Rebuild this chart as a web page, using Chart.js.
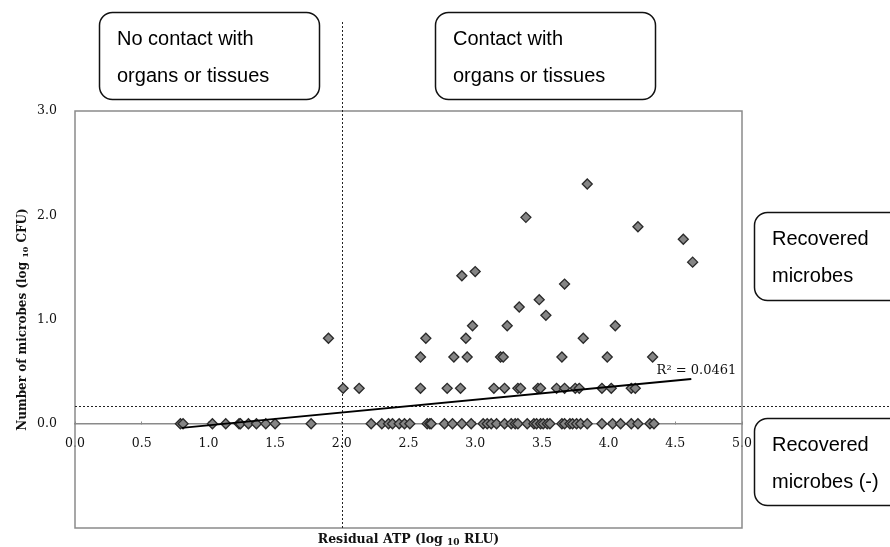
<!DOCTYPE html>
<html>
<head>
<meta charset="utf-8">
<script src="https://cdn.jsdelivr.net/npm/chart.js@4.4.0/dist/chart.umd.min.js"></script>
<style>
body { margin: 0; background: #fff; }
</style>
</head>
<body>
<canvas id="chartAtp" width="890" height="547"></canvas>
<script>
// residual ATP (log10 RLU) of the samples, grouped by recovered microbes (log10 CFU)
var atpAtZero = [0.79, 0.81, 1.03, 1.13, 1.23, 1.24, 1.30, 1.36, 1.43, 1.50, 1.77,
    2.22, 2.30, 2.35, 2.38, 2.43, 2.47, 2.51, 2.64, 2.66, 2.67, 2.77, 2.83, 2.90, 2.97,
    3.06, 3.09, 3.12, 3.16, 3.22, 3.27, 3.30, 3.32, 3.39, 3.44, 3.46, 3.49, 3.51, 3.54,
    3.56, 3.65, 3.67, 3.71, 3.73, 3.76, 3.79, 3.84, 3.95, 4.03, 4.09, 4.17, 4.22, 4.31, 4.34];
var atpAtLow = [2.01, 2.13, 2.59, 2.79, 2.89, 3.14, 3.22, 3.32, 3.34, 3.47, 3.49, 3.61,
    3.67, 3.75, 3.78, 3.95, 4.02, 4.17, 4.20];
var atpAtMid = [2.59, 2.84, 2.94, 3.19, 3.21, 3.65, 3.99, 4.33];
var atpAtHigh = [1.90, 2.63, 2.93, 3.81];
var cfuRows = [0, 0.34, 0.64, 0.82];

var upperAtp = [2.98, 3.24, 4.05, 3.53, 3.33, 3.48, 3.67, 2.90, 3.00, 4.63, 4.56, 4.22, 3.38, 3.84];
var upperCfu = [0.94, 0.94, 0.94, 1.04, 1.12, 1.19, 1.34, 1.42, 1.46, 1.55, 1.77, 1.89, 1.98, 2.30];

// linear fit shown in the figure
var trendRange = [0.8, 4.62];
var trendCoef = [-0.138, 0.123]; // intercept, slope
var trendLabel = 'R\u00b2 = 0.0461';

var thresholdCfu = 0.17;
var contactAtp = 2.0;

var xTicks = [0, 0.5, 1, 1.5, 2, 2.5, 3, 3.5, 4, 4.5, 5];
var yTicks = [0, 1, 2, 3];

var xTitle = ['Residual ATP (log ', '10', ' RLU)'];
var yTitle = ['Number of microbes (log ', '10', ' CFU)'];
var boxLabels = [
    ['No contact with', 'organs or tissues'],
    ['Contact with', 'organs or tissues'],
    ['Recovered', 'microbes'],
    ['Recovered', 'microbes (-)']
];

var points = [];
[atpAtZero, atpAtLow, atpAtMid, atpAtHigh].forEach(function (row, r) {
    row.forEach(function (v) { points.push({ x: v, y: cfuRows[r] }); });
});
for (var i = 0; i < upperAtp.length; i++) {
    points.push({ x: upperAtp[i], y: upperCfu[i] });
}
var trend = trendRange.map(function (v) {
    return { x: v, y: trendCoef[0] + trendCoef[1] * v };
});

function roundBox(ctx, x, y, w, h, r) {
    ctx.beginPath();
    ctx.moveTo(x + r, y);
    ctx.arcTo(x + w, y, x + w, y + h, r);
    ctx.arcTo(x + w, y + h, x, y + h, r);
    ctx.arcTo(x, y + h, x, y, r);
    ctx.arcTo(x, y, x + w, y, r);
    ctx.closePath();
    ctx.stroke();
}

// title text with a subscript in the middle part
function subTitle(ctx, parts, cx, by, size) {
    var big = 'bold ' + size + 'px "DejaVu Serif"';
    var small = 'bold ' + Math.round(size * 0.7) + 'px "DejaVu Serif"';
    ctx.font = big;
    var w0 = ctx.measureText(parts[0]).width, w2 = ctx.measureText(parts[2]).width;
    ctx.font = small;
    var w1 = ctx.measureText(parts[1]).width;
    var x = cx - (w0 + w1 + w2) / 2;
    ctx.textAlign = 'left';
    ctx.textBaseline = 'alphabetic';
    ctx.font = big;
    ctx.fillText(parts[0], x, by);
    ctx.font = small;
    ctx.fillText(parts[1], x + w0, by + 2);
    ctx.font = big;
    ctx.fillText(parts[2], x + w0 + w1, by);
}

function noPadding(s) {
    s.paddingTop = 0;
    s.paddingBottom = 0;
}

var overlay = {
    id: 'overlay',
    beforeDatasetsDraw: function (chart) {
        var ctx = chart.ctx, a = chart.chartArea;
        var xs = chart.scales.x, ys = chart.scales.y;
        ctx.save();
        ctx.strokeStyle = '#8a8a8a';
        ctx.lineWidth = 1.5;
        ctx.strokeRect(a.left, a.top, a.right - a.left, a.bottom - a.top);
        ctx.setLineDash([2, 2]);
        ctx.strokeStyle = '#222';
        ctx.lineWidth = 1;
        var ty = Math.round(ys.getPixelForValue(thresholdCfu)) + 0.5;
        ctx.beginPath();
        ctx.moveTo(a.left, ty);
        ctx.lineTo(chart.width, ty);
        ctx.stroke();
        var cx = Math.round(xs.getPixelForValue(contactAtp)) + 0.5;
        ctx.beginPath();
        ctx.moveTo(cx, 22);
        ctx.lineTo(cx, a.bottom);
        ctx.stroke();
        ctx.restore();
    },
    afterDraw: function (chart) {
        var ctx = chart.ctx;
        var xs = chart.scales.x, ys = chart.scales.y;
        ctx.save();
        // note boxes
        var spots = [[99, 12, 220, 87], [435, 12, 220, 87], [754, 212, 160, 88], [754, 418, 160, 87]];
        ctx.strokeStyle = '#111';
        ctx.lineWidth = 1.5;
        ctx.fillStyle = '#000';
        ctx.font = '20px "Liberation Sans", Arial, sans-serif';
        ctx.textAlign = 'left';
        ctx.textBaseline = 'alphabetic';
        spots.forEach(function (s, k) {
            roundBox(ctx, s[0] + 0.5, s[1] + 0.5, s[2], s[3], 13);
            ctx.fillText(boxLabels[k][0], s[0] + 18, s[1] + 33);
            ctx.fillText(boxLabels[k][1], s[0] + 18, s[1] + 70);
        });
        // R² of the fit
        ctx.font = '13px "DejaVu Serif"';
        ctx.fillStyle = '#111';
        ctx.fillText(trendLabel, xs.getPixelForValue(4.36), ys.getPixelForValue(0.48));
        // axis titles
        subTitle(ctx, xTitle, (chart.chartArea.left + chart.chartArea.right) / 2, 543, 12.5);
        ctx.translate(26, (chart.chartArea.top + chart.chartArea.bottom) / 2);
        ctx.rotate(-Math.PI / 2);
        subTitle(ctx, yTitle, 0, 0, 12);
        ctx.restore();
    }
};

var ctx = document.getElementById('chartAtp').getContext('2d');
var myChart = new Chart(ctx, {
    type: 'scatter',
    data: {
        datasets: [{
            data: trend,
            showLine: true,
            borderColor: '#000',
            borderWidth: 2,
            pointRadius: 0,
            fill: false
        }, {
            data: points,
            pointStyle: 'rectRot',
            pointRadius: 5,
            backgroundColor: '#858585',
            borderColor: '#2a2a2a',
            borderWidth: 1.3
        }]
    },
    options: {
        responsive: false,
        animation: false,
        events: [],
        layout: {
            padding: { left: 0, right: 148, top: 111, bottom: 19 }
        },
        plugins: {
            legend: { display: false },
            tooltip: { enabled: false }
        },
        scales: {
            x: {
                type: 'linear',
                position: { y: 0 },
                min: 0,
                max: 5,
                afterBuildTicks: function (s) {
                    s.ticks = xTicks.map(function (v) { return { value: v }; });
                },
                afterFit: function (s) { s.height = 0; noPadding(s); },
                ticks: {
                    callback: function (v) { return v.toFixed(1); },
                    font: { family: 'DejaVu Serif', size: 12.5 },
                    color: '#111',
                    padding: 15,
                    maxRotation: 0
                },
                grid: {
                    drawOnChartArea: false,
                    drawTicks: true,
                    tickLength: -3,
                    color: '#8a8a8a'
                },
                border: { color: '#8a8a8a', width: 1.5 }
            },
            y: {
                type: 'linear',
                min: -1,
                max: 3,
                afterBuildTicks: function (s) {
                    s.ticks = yTicks.map(function (v) { return { value: v }; });
                },
                afterFit: function (s) { s.width = 75; noPadding(s); },
                ticks: {
                    callback: function (v) { return v.toFixed(1); },
                    font: { family: 'DejaVu Serif', size: 12.5 },
                    color: '#111',
                    padding: 18
                },
                grid: { display: false, drawTicks: false },
                border: { display: false }
            }
        }
    },
    plugins: [overlay]
});
</script>
</body>
</html>
